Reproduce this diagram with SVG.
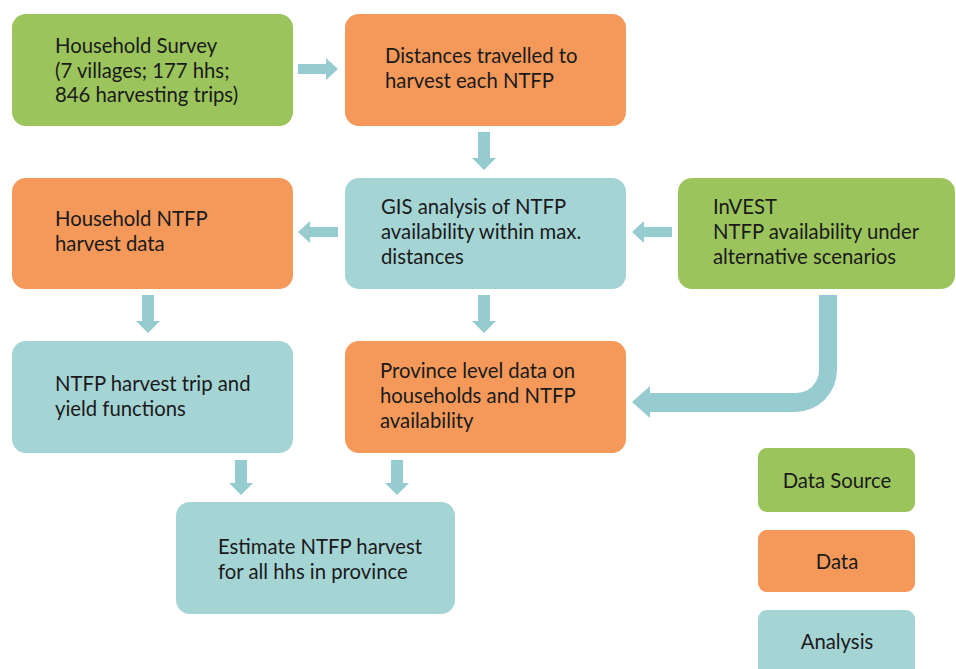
<svg xmlns="http://www.w3.org/2000/svg" width="956" height="669" viewBox="0 0 956 669">
<style>
.src{fill:#9cc45c}
.dat{fill:#f4995a}
.ana{fill:#a5d4d5}
text{font-family:Lato,"Open Sans",sans-serif;font-size:20.3px;fill:#1a1a1a}
.c{text-anchor:middle}
.arr{fill:#96ccd0}
</style>
<rect width="956" height="669" fill="#ffffff"/>
<g id="connectors" class="arr">
<path d="M298,64 H326 V58 L338,69 L326,80 V74 H298 Z"/>
<path d="M478,132 H490 V158 H496 L484,170 L472,158 H478 Z"/>
<path d="M338,227 H310 V221 L298,232 L310,243 V237 H338 Z"/>
<path d="M672,227 H644 V221 L632,232 L644,243 V237 H672 Z"/>
<path d="M142,295 H154 V321 H160 L148,333 L136,321 H142 Z"/>
<path d="M478,295 H490 V321 H496 L484,333 L472,321 H478 Z"/>
<path d="M235,460 H247 V483 H253 L241,495 L229,483 H235 Z"/>
<path d="M391,460 H403 V483 H409 L397,495 L385,483 H391 Z"/>
<path d="M819,295 H837 V370 A42,42 0 0 1 795,412 H650 V418 L632,402 L650,386 V393 H795 A23,23 0 0 0 819,370 Z"/>
</g>
<g id="household-survey">
<rect class="src" x="12" y="14" width="281" height="112" rx="14"/>
<text x="55" y="53">Household Survey</text>
<text x="55" y="77.5">(7 villages; 177 hhs;</text>
<text x="55" y="102">846 harvesting trips)</text>
</g>
<g id="distances">
<rect class="dat" x="345" y="14" width="281" height="112" rx="14"/>
<text x="385" y="63">Distances travelled to</text>
<text x="385" y="88">harvest each NTFP</text>
</g>
<g id="household-ntfp">
<rect class="dat" x="12" y="178" width="281" height="111" rx="14"/>
<text x="55" y="226">Household NTFP</text>
<text x="55" y="251">harvest data</text>
</g>
<g id="gis-analysis">
<rect class="ana" x="345" y="178" width="281" height="111" rx="14"/>
<text x="381" y="214">GIS analysis of NTFP</text>
<text x="381" y="239">availability within max.</text>
<text x="381" y="264">distances</text>
</g>
<g id="invest">
<rect class="src" x="678" y="178" width="277" height="111" rx="14"/>
<text x="713" y="214">InVEST</text>
<text x="713" y="239">NTFP availability under</text>
<text x="713" y="264">alternative scenarios</text>
</g>
<g id="harvest-trip">
<rect class="ana" x="12" y="341" width="281" height="112" rx="14"/>
<text x="55" y="391">NTFP harvest trip and</text>
<text x="55" y="416">yield functions</text>
</g>
<g id="province-data">
<rect class="dat" x="345" y="341" width="281" height="112" rx="14"/>
<text x="380" y="378">Province level data on</text>
<text x="380" y="403">households and NTFP</text>
<text x="380" y="428">availability</text>
</g>
<g id="estimate">
<rect class="ana" x="176" y="502" width="279" height="112" rx="14"/>
<text x="218" y="554">Estimate NTFP harvest</text>
<text x="218" y="579">for all hhs in province</text>
</g>
<g id="legend-source">
<rect class="src" x="758" y="448" width="157" height="64" rx="9"/>
<text class="c" x="837" y="488">Data Source</text>
</g>
<g id="legend-data">
<rect class="dat" x="758" y="530" width="157" height="62" rx="9"/>
<text class="c" x="837" y="569">Data</text>
</g>
<g id="legend-analysis">
<rect class="ana" x="758" y="610" width="157" height="70" rx="9"/>
<text class="c" x="837" y="649">Analysis</text>
</g>
</svg>
